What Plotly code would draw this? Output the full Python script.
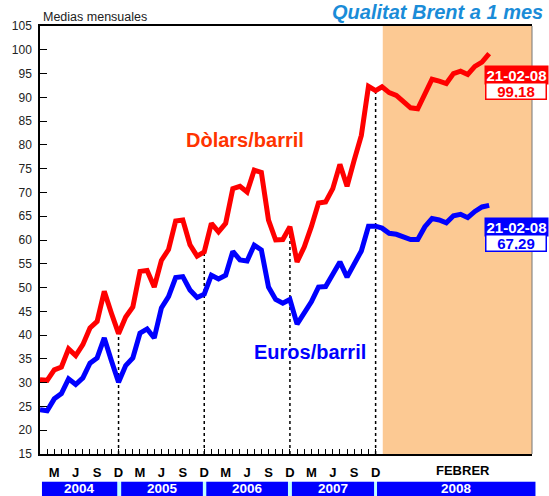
import plotly.graph_objects as go

# ── data: Brent 1-month, monthly means Jan 2004 - Dec 2007 ──
usd_monthly = [
    30.6, 30.5, 32.7, 33.3, 37.1, 35.7, 38.0, 41.5, 42.9, 49.2, 44.6, 40.3,   # 2004
    43.8, 45.9, 53.4, 53.6, 50.1, 55.7, 58.0, 64.0, 64.2, 59.0, 56.6, 57.5,   # 2005
    63.5, 61.7, 63.5, 70.8, 71.3, 70.1, 74.7, 74.2, 64.2, 60.0, 60.1, 62.8,   # 2006
    55.4, 58.5, 62.8, 67.8, 68.0, 70.8, 75.9, 71.3, 76.8, 82.0, 92.3, 91.4,   # 2007
]
eur_monthly = [
    24.3, 24.1, 26.6, 27.7, 30.8, 29.6, 31.0, 34.1, 35.2, 39.4, 34.6, 30.1,   # 2004
    33.6, 35.2, 40.4, 41.3, 39.4, 45.7, 48.1, 52.1, 52.3, 49.5, 47.9, 48.6,   # 2005
    52.6, 51.8, 52.6, 57.6, 55.8, 55.6, 58.9, 57.9, 50.1, 47.5, 46.7, 47.5,   # 2006
    42.3, 44.6, 47.0, 50.1, 50.2, 52.8, 55.4, 52.2, 55.1, 57.7, 62.9, 62.9,   # 2007
]

# daily quotes, February 2008 (up to 21-02-08)
usd_daily = [92.2, 91.0, 90.4, 89.0, 87.8, 87.6, 90.8, 93.8,
             93.4, 92.9, 95.0, 95.5, 94.8, 96.5, 97.4, 99.18]
eur_daily = [62.5, 61.4, 61.2, 60.7, 60.1, 60.1, 62.8, 64.5,
             64.2, 63.6, 65.1, 65.4, 64.7, 66.0, 66.95, 67.29]
last_date = "21-02-08"

month_letters = {2: "M", 5: "J", 8: "S", 11: "D"}
years = ["2004", "2005", "2006", "2007", "2008"]

# ── x positions: one unit per month, daily points continue after Dec 2007 ──
months_x = list(range(len(usd_monthly)))
days_x = [47.9 + i for i in range(len(usd_daily))]
x_all = months_x + days_x
x_end = 68.9

RED = "#ff0000"
BLUE = "#0000ff"
FONT = "Liberation Sans, Arial, sans-serif"

fig = go.Figure()
fig.add_trace(go.Scatter(x=x_all, y=usd_monthly + usd_daily, mode="lines",
                         line=dict(color=RED, width=5), hoverinfo="skip"))
fig.add_trace(go.Scatter(x=x_all, y=eur_monthly + eur_daily, mode="lines",
                         line=dict(color=BLUE, width=5), hoverinfo="skip"))

shapes = []
# February 2008 shaded zone
shapes.append(dict(type="rect", xref="x", yref="paper", x0=48.0, x1=x_end, y0=0, y1=1,
                   fillcolor="#fcc993", line_width=0, layer="below"))
# dotted year separators (December), up to the dollar line
for i in range(11, len(usd_monthly), 12):
    shapes.append(dict(type="line", xref="x", yref="y", x0=i, x1=i, y0=15, y1=usd_monthly[i],
                       line=dict(color="black", width=1.5, dash="dot"), layer="below"))
# right border
shapes.append(dict(type="line", xref="paper", yref="paper", x0=1, x1=1, y0=0, y1=1,
                   line=dict(color="#777777", width=1)))

# year band under the axis (paper coords)
band = [(0.004, 0.157), (0.165, 0.331), (0.338, 0.504), (0.512, 0.679), (0.685, 1.007)]
shapes.append(dict(type="rect", xref="paper", yref="paper", x0=band[0][0], x1=band[-1][1],
                   y0=-0.0647, y1=-0.11, fillcolor="#c0ffff", line_width=0))
annotations = []
for name, (a, b) in zip(years, band):
    shapes.append(dict(type="rect", xref="paper", yref="paper", x0=a, x1=b,
                       y0=-0.0647, y1=-0.11, fillcolor=BLUE, line_width=0))
    annotations.append(dict(text=f"<b>{name}</b>", xref="paper", yref="paper",
                            x=(a + b) / 2, y=-0.0815, xanchor="center", yanchor="middle",
                            showarrow=False,
                            font=dict(family=FONT, size=13.5, color="white")))

annotations += [
    dict(text="<b>FEBRER</b>", xref="x", yref="paper", x=59.2, y=-0.039,
         xanchor="center", yanchor="middle", showarrow=False,
         font=dict(family=FONT, size=13, color="black")),
    dict(text="<b><i>Qualitat Brent a 1 mes</i></b>", xref="paper", yref="paper",
         x=1.0264, y=1.033, xanchor="right", yanchor="middle", showarrow=False,
         font=dict(family=FONT, size=20, color="#1a8cd8")),
    dict(text="Medias mensuales", xref="paper", yref="paper", x=0.002, y=1.021,
         xanchor="left", yanchor="middle", showarrow=False,
         font=dict(family=FONT, size=12.5, color="#222222")),
    dict(text="<b>Dòlars/barril</b>", x=28.7, y=81.0, showarrow=False,
         font=dict(family=FONT, size=20, color="#ff3300")),
    dict(text="<b>Euros/barril</b>", x=37.8, y=36.4, showarrow=False,
         font=dict(family=FONT, size=20, color=BLUE)),
]

# end-of-series labels
for series, col in ((usd_daily, RED), (eur_daily, BLUE)):
    xv, yv = days_x[-1], series[-1]
    annotations.append(dict(text=f"<b>{last_date}</b>", x=xv, y=yv, xshift=27, yshift=-21.5,
                            xanchor="center", yanchor="middle", showarrow=False,
                            bgcolor=col, width=61, height=16, borderpad=1,
                            font=dict(family=FONT, size=15, color="white")))
    annotations.append(dict(text="<b>" + f"{yv:.2f}".replace(".", ",") + "</b>",
                            x=xv, y=yv, xshift=27, yshift=-37.5,
                            xanchor="center", yanchor="middle", showarrow=False,
                            bgcolor="white", bordercolor=col, borderwidth=1.5,
                            width=57, height=13, borderpad=1,
                            font=dict(family=FONT, size=15, color=col)))

fig.update_layout(
    width=549, height=496,
    margin=dict(l=40, r=17, t=26, b=42, autoexpand=False),
    paper_bgcolor="white", plot_bgcolor="white",
    showlegend=False,
    shapes=shapes,
    annotations=annotations,
    xaxis=dict(
        range=[0, x_end], showgrid=False, zeroline=False, automargin=False,
        showline=True, linecolor="black", linewidth=1.5, mirror=True,
        tickmode="array", tickvals=months_x,
        ticktext=[f"<b>{month_letters.get(i % 12, '')}</b>" for i in months_x],
        tickangle=0,
        ticks="inside", ticklen=5, tickwidth=1, tickcolor="black",
        ticklabelstandoff=6,
        tickfont=dict(family=FONT, size=13, color="black"),
    ),
    yaxis=dict(
        range=[15, 105], dtick=5, showgrid=False, zeroline=False, automargin=False,
        showline=True, linecolor="black", linewidth=1.5,
        ticks="inside", ticklen=7, tickwidth=1, tickcolor="black",
        ticklabelstandoff=4,
        tickfont=dict(family=FONT, size=12, color="#222222"),
    ),
)

# the page has a default 8px body margin; drop it so the figure sits at (0, 0)
fig.write_html("out.html", config={"displayModeBar": False},
               post_script="document.body.style.margin = '0';")
